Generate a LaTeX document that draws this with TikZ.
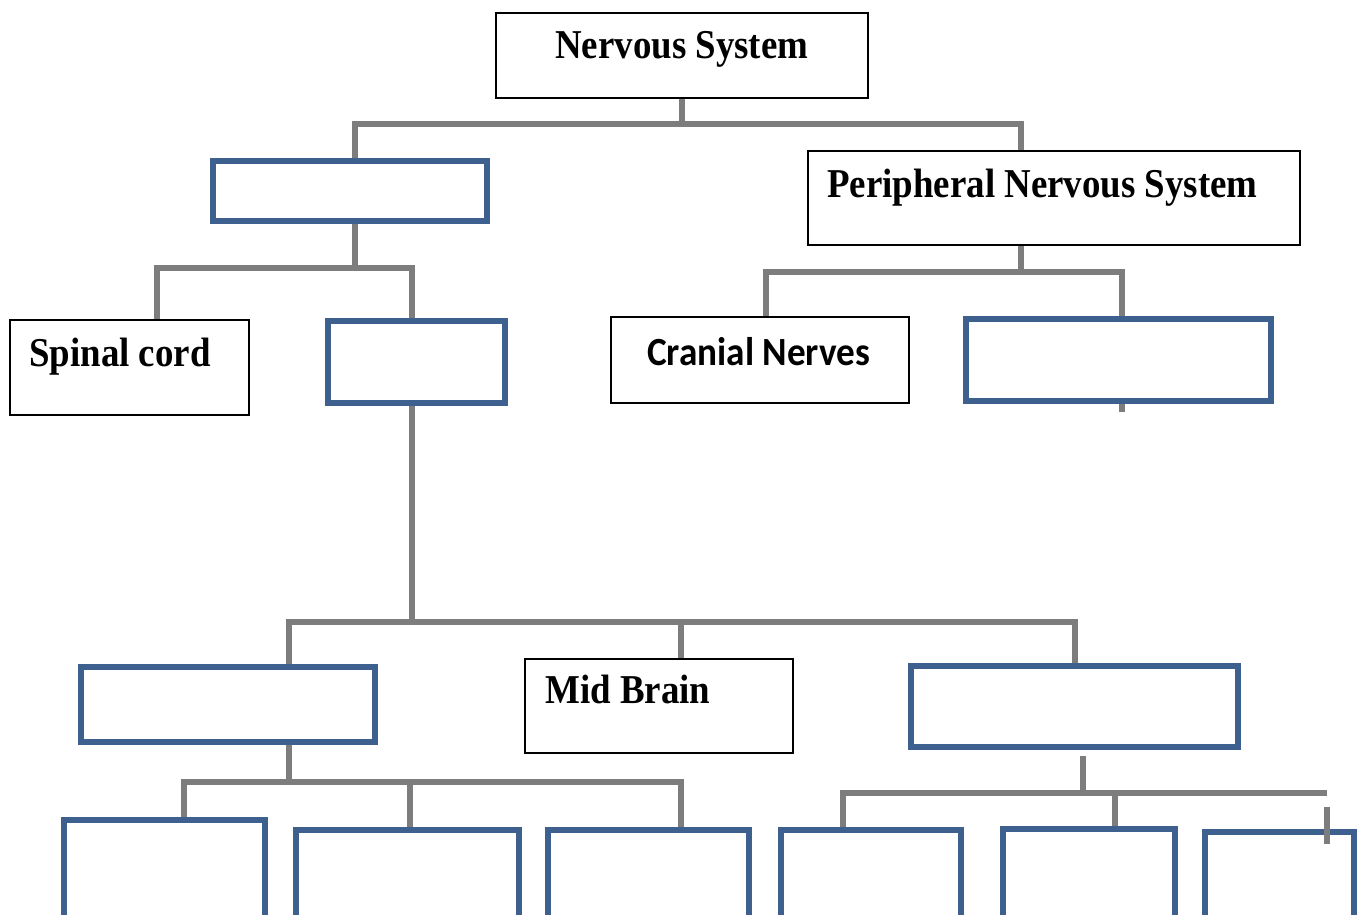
\documentclass[tikz,border=0pt]{standalone}
\usepackage{fontspec}
\usepackage{graphicx}
\newfontfamily\serifbf{Liberation Serif}
\newfontfamily\calbf{Carlito}
\definecolor{boxblue}{RGB}{62,96,142}
\definecolor{conngray}{RGB}{125,125,125}
\newcommand{\stxt}[1]{\scalebox{0.9}[1]{\serifbf\bfseries\fontsize{41pt}{41pt}\selectfont #1}}
\newcommand{\ctxt}[1]{\scalebox{0.93}[1]{\calbf\bfseries\fontsize{40pt}{40pt}\selectfont #1}}
\tikzset{
  bluebox/.style={draw=boxblue, line width=6pt, fill=white, inner sep=0pt},
  blackbox/.style={draw=black, line width=2pt, fill=white, inner sep=0pt},
  lbl/.style={inner sep=0pt, anchor=base west},
  conn/.style={draw=conngray, line width=5.5pt}
}
\begin{document}
\begin{tikzpicture}[x=1pt,y=-1pt]
\useasboundingbox (0,0) rectangle (1359,914);
\clip (0,0) rectangle (1359,914);
\fill[white] (0,0) rectangle (1359,914);

% boxes
\node[blackbox, minimum width=372pt, minimum height=85pt] (ns) at (682,55.5) {};
\node[bluebox, minimum width=274pt, minimum height=60pt] (cns) at (350,191) {};
\node[blackbox, minimum width=239pt, minimum height=95pt] (sc) at (129.5,367.5) {};
\node[bluebox, minimum width=177pt, minimum height=82pt] (br) at (416.5,362) {};
\node[blackbox, minimum width=492pt, minimum height=94pt] (pns) at (1054,198) {};
\node[blackbox, minimum width=298pt, minimum height=86pt] (cn) at (760,360) {};
\node[bluebox, minimum width=305pt, minimum height=82pt] (spn) at (1118.5,360) {};
\node[bluebox, minimum width=294pt, minimum height=75pt] (fb) at (228,704.5) {};
\node[blackbox, minimum width=268pt, minimum height=94pt] (mb) at (659,706) {};
\node[bluebox, minimum width=327pt, minimum height=81pt] (hb) at (1074.5,706.5) {};
\node[bluebox, minimum width=201pt, minimum height=112pt] (b1) at (164.5,876) {};
\node[bluebox, minimum width=223pt, minimum height=102pt] (b2) at (407.5,881) {};
\node[bluebox, minimum width=201pt, minimum height=102pt] (b3) at (648.5,881) {};
\node[bluebox, minimum width=180pt, minimum height=102pt] (b4) at (871,881) {};
\node[bluebox, minimum width=172pt, minimum height=103pt] (b5) at (1089,880.5) {};
\node[bluebox, minimum width=149pt, minimum height=100pt] (b6) at (1279.5,882) {};

% labels
\node[lbl] (tns) at (555,58) {\stxt{Nervous System}};
\node[lbl] (tsc) at (29,366) {\stxt{Spinal cord}};
\node[lbl] (tpns) at (827,197) {\stxt{Peripheral Nervous System}};
\node[lbl] (tcn) at (647,365) {\ctxt{Cranial Nerves}};
\node[lbl] (tmb) at (545,703) {\stxt{Mid Brain}};

% connectors
\draw[conn] (ns.south) -- ++(0,25) -| ([xshift=5pt]cns.north);
\draw[conn] (ns.south) -- ++(0,25) -| ([xshift=-33pt]pns.north);

\draw[conn] ([xshift=5pt]cns.south) -- ++(0,44) -| ([xshift=27.5pt]sc.north);
\draw[conn] ([xshift=5pt]cns.south) -- ++(0,44) -| ([xshift=-4.5pt]br.north);

\draw[conn] ([xshift=-33pt]pns.south) -- ++(0,26) -| ([xshift=6pt]cn.north);
\draw[conn] ([xshift=-33pt]pns.south) -- ++(0,26) -| ([xshift=3.5pt]spn.north);
\draw[conn] ([xshift=3.5pt]spn.south) -- ++(0,8);

\draw[conn] ([xshift=-4.5pt]br.south) -- ++(0,216) -| ([xshift=61pt]fb.north);
\draw[conn] ([xshift=-4.5pt]br.south) -- ++(0,216) -| ([xshift=22pt]mb.north);
\draw[conn] ([xshift=-4.5pt]br.south) -- ++(0,216) -| ([xshift=0.5pt]hb.north);

\draw[conn] ([xshift=61pt]fb.south) -- ++(0,37) -| ([xshift=19.5pt]b1.north);
\draw[conn] ([xshift=61pt]fb.south) -- ++(0,37) -| ([xshift=32.5pt]b3.north);
\draw[conn] ([xshift=2.5pt]b2.north) -- ++(0,-45);

\draw[conn] ([xshift=8.5pt,yshift=-6pt]hb.south) -- ++(0,37) coordinate (hj);
\draw[conn] ([xshift=-28pt]b4.north) -- ([xshift=-28pt]b4.north |- hj) -- ([xshift=47.5pt]b6.north |- hj);
\draw[conn] ([xshift=26pt]b5.north) -- ([xshift=26pt]b5.north |- hj);
\draw[conn] ([xshift=47.5pt,yshift=-15pt]b6.north) -- ++(0,-37);
\end{tikzpicture}
\end{document}
